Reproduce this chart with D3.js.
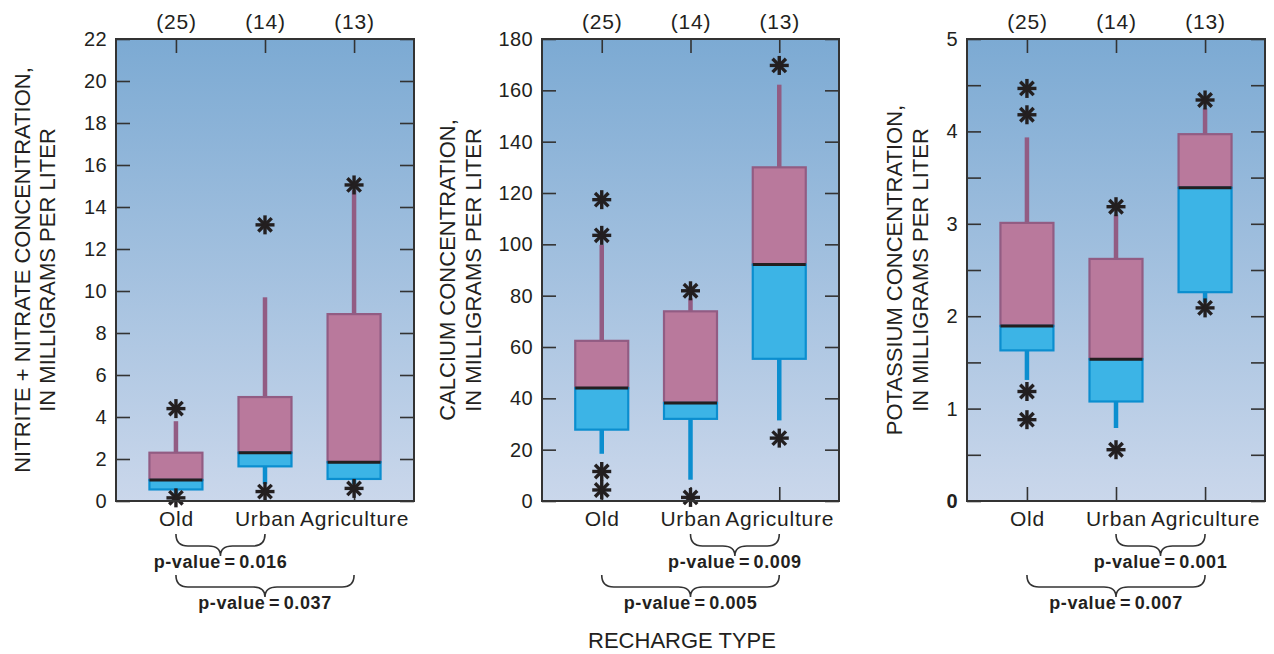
<!DOCTYPE html>
<html>
<head>
<meta charset="utf-8">
<script src="https://cdn.jsdelivr.net/npm/d3@7"></script>
<style>
  html, body { margin: 0; padding: 0; background: #fff; }
  svg { display: block; font-family: "Liberation Sans", Arial, Helvetica, sans-serif; }
</style>
</head>
<body>
<svg id="chart" width="1274" height="654"></svg>
<script>
// Recharge-type categories and number of samples in each
const categories = ["Old", "Urban", "Agriculture"];
const sampleCounts = [25, 14, 13];

// Box statistics per category: [lower whisker, 25th pct, median, 75th pct, upper whisker]
const nitrateBoxes = [
  [0.3, 0.55, 1.0, 2.3, 3.8],
  [0.8, 1.65, 2.3, 4.95, 9.7],
  [0.8, 1.05, 1.85, 8.9, 14.8]
];
const calciumBoxes = [
  [18.4, 27.8, 44, 62.4, 99.8],
  [8.3, 32, 38.2, 73.9, 79],
  [31.4, 55.4, 92.1, 130, 162.2]
];
const potassiumBoxes = [
  [1.31, 1.63, 1.895, 3.01, 3.935],
  [0.79, 1.077, 1.535, 2.62, 3.1],
  [2.15, 2.26, 3.39, 3.97, 4.25]
];

// Outside values per category
const nitrateOutliers = [[4.4, 0.15], [13.15, 0.45], [15.05, 0.6]];
const calciumOutliers = [[117.4, 103.5, 11.5, 4.3], [81.9, 1.4], [169.7, 24.5]];
const potassiumOutliers = [[4.465, 4.18, 1.185, 0.88], [3.185, 0.555], [4.34, 2.09]];

// Axis tick values
const nitrateTicks = d3.range(0, 23, 2);
const calciumTicks = d3.range(0, 181, 20);
const potassiumTicks = d3.range(0, 5.01, 0.5);
const potassiumLabels = [0, 1, 2, 3, 4, 5];

// Pairwise comparisons: [from, to, p-value]
const nitrateTests = [["Old", "Urban", "0.016"], ["Old", "Agriculture", "0.037"]];
const calciumTests = [["Urban", "Agriculture", "0.009"], ["Old", "Agriculture", "0.005"]];
const potassiumTests = [["Urban", "Agriculture", "0.001"], ["Old", "Agriculture", "0.007"]];

// Axis titles (two lines each)
const nitrateTitle = ["NITRITE + NITRATE CONCENTRATION,", "IN MILLIGRAMS PER LITER"];
const calciumTitle = ["CALCIUM CONCENTRATION,", "IN MILLIGRAMS PER LITER"];
const potassiumTitle = ["POTASSIUM CONCENTRATION,", "IN MILLIGRAMS PER LITER"];

const svg = d3.select("#chart");
const ink = "#231f20";
const upperFill = "#b9799c", upperStroke = "#925c83";
const lowerFill = "#3cb4e6", lowerStroke = "#0b8ecf";

const defs = svg.append("defs");
const grad = defs.append("linearGradient")
  .attr("id", "plotBg").attr("x1", 0).attr("y1", 0).attr("x2", 0).attr("y2", 1);
grad.append("stop").attr("offset", "0%").attr("stop-color", "#7caad3");
grad.append("stop").attr("offset", "100%").attr("stop-color", "#cad7eb");

const plotTop = 39, plotBottom = 501;

const panels = [
  { left: 116, right: 414, domain: [0, 22], ticks: nitrateTicks, labels: nitrateTicks,
    boxes: nitrateBoxes, outliers: nitrateOutliers, tests: nitrateTests,
    title: nitrateTitle, titleX: [30, 55] },
  { left: 542, right: 839, domain: [0, 180], ticks: calciumTicks, labels: calciumTicks,
    boxes: calciumBoxes, outliers: calciumOutliers, tests: calciumTests,
    title: calciumTitle, titleX: [455, 481] },
  { left: 967, right: 1265, domain: [0, 5], ticks: potassiumTicks, labels: potassiumLabels,
    boxes: potassiumBoxes, outliers: potassiumOutliers, tests: potassiumTests,
    title: potassiumTitle, titleX: [902, 928], boldZero: true }
];

function star(g, cx, cy) {
  const r = 9.5;
  const s = g.append("g").attr("transform", `translate(${cx},${cy})`);
  [0, 45, 90, 135].forEach(a => {
    const rad = a * Math.PI / 180;
    s.append("line")
      .attr("x1", -r * Math.cos(rad)).attr("y1", -r * Math.sin(rad))
      .attr("x2", r * Math.cos(rad)).attr("y2", r * Math.sin(rad))
      .attr("stroke", ink).attr("stroke-width", 3.4).attr("stroke-linecap", "butt");
  });
}

function brace(x1, x2, y0) {
  const mid = (x1 + x2) / 2, r = 12, y1 = y0 + 12, y2 = y0 + 22;
  const p = d3.path();
  p.moveTo(x1, y0);
  p.quadraticCurveTo(x1, y1, x1 + r, y1);
  p.lineTo(mid - r, y1);
  p.quadraticCurveTo(mid, y1, mid, y2);
  p.quadraticCurveTo(mid, y1, mid + r, y1);
  p.lineTo(x2 - r, y1);
  p.quadraticCurveTo(x2, y1, x2, y0);
  return p.toString();
}

panels.forEach(P => {
  const g = svg.append("g");
  const x = d3.scalePoint().domain(categories).range([P.left, P.right]).padding(0.673);
  const y = d3.scaleLinear().domain(P.domain).range([plotBottom, plotTop]);

  g.append("rect")
    .attr("x", P.left).attr("y", plotTop)
    .attr("width", P.right - P.left).attr("height", plotBottom - plotTop)
    .attr("fill", "url(#plotBg)");

  // Left axis: inward ticks with labels
  const leftAxis = g.append("g").attr("transform", `translate(${P.left},0)`)
    .call(d3.axisLeft(y).tickValues(P.ticks).tickSizeInner(-14).tickSizeOuter(0).tickPadding(9)
      .tickFormat(d => P.labels.some(v => Math.abs(v - d) < 1e-9) ? d3.format("d")(d) : ""));
  // Right axis: inward ticks only
  const rightAxis = g.append("g").attr("transform", `translate(${P.right},0)`)
    .call(d3.axisRight(y).tickValues(P.ticks).tickSizeInner(-14).tickSizeOuter(0).tickFormat(""));
  // Top axis: sample counts
  const topAxis = g.append("g").attr("transform", `translate(0,${plotTop})`)
    .call(d3.axisTop(x).tickSizeInner(-14).tickSizeOuter(0).tickPadding(10)
      .tickFormat((d, i) => `(${sampleCounts[i]})`));
  // Bottom axis: category names
  const bottomAxis = g.append("g").attr("transform", `translate(0,${plotBottom})`)
    .call(d3.axisBottom(x).tickSizeInner(-14).tickSizeOuter(0).tickPadding(10));

  [leftAxis, rightAxis, topAxis, bottomAxis].forEach(a => {
    a.select(".domain").remove();
    a.selectAll(".tick line").attr("stroke", "#333").attr("stroke-width", 1.6);
    a.selectAll("text").attr("fill", ink).attr("font-family", null);
  });
  leftAxis.selectAll("text").attr("font-size", 20).attr("letter-spacing", 0.4);
  if (P.boldZero) leftAxis.selectAll("text").filter(d => d === 0).attr("font-weight", "bold");
  topAxis.selectAll("text").attr("font-size", 21).attr("letter-spacing", 0.8);
  bottomAxis.selectAll("text").attr("font-size", 21).attr("letter-spacing", 0.8);

  const bw = 53;
  P.boxes.forEach((b, i) => {
    const cx = x(categories[i]);
    const [lo, q1, med, q3, hi] = b;
    // whiskers
    g.append("line").attr("x1", cx).attr("x2", cx).attr("y1", y(q3)).attr("y2", y(hi))
      .attr("stroke", upperStroke).attr("stroke-width", 4.5);
    g.append("line").attr("x1", cx).attr("x2", cx).attr("y1", y(q1)).attr("y2", y(lo))
      .attr("stroke", lowerStroke).attr("stroke-width", 4.5);
    // upper half of box
    g.append("rect").attr("x", cx - bw / 2).attr("width", bw)
      .attr("y", y(q3)).attr("height", y(med) - y(q3))
      .attr("fill", upperFill).attr("stroke", upperStroke).attr("stroke-width", 2.2);
    // lower half of box
    g.append("rect").attr("x", cx - bw / 2).attr("width", bw)
      .attr("y", y(med)).attr("height", y(q1) - y(med))
      .attr("fill", lowerFill).attr("stroke", lowerStroke).attr("stroke-width", 2.2);
    // median
    g.append("line").attr("x1", cx - bw / 2).attr("x2", cx + bw / 2)
      .attr("y1", y(med)).attr("y2", y(med))
      .attr("stroke", ink).attr("stroke-width", 3);
    P.outliers[i].forEach(v => star(g, cx, y(v)));
  });

  // plot frame
  g.append("rect")
    .attr("x", P.left).attr("y", plotTop)
    .attr("width", P.right - P.left).attr("height", plotBottom - plotTop)
    .attr("fill", "none").attr("stroke", "#333").attr("stroke-width", 2);

  // axis title
  const cy = (plotTop + plotBottom) / 2;
  P.title.forEach((t, k) => {
    g.append("text")
      .attr("transform", `translate(${P.titleX[k]},${cy}) rotate(-90)`)
      .attr("text-anchor", "middle").attr("font-size", 22).attr("fill", ink)
      .text(t);
  });

  // significance braces
  P.tests.forEach((t, k) => {
    const x1 = x(t[0]), x2 = x(t[1]);
    const y0 = k === 0 ? 534 : 575;
    g.append("path").attr("d", brace(x1, x2, y0))
      .attr("fill", "none").attr("stroke", "#333").attr("stroke-width", 1.6);
    g.append("text")
      .attr("x", (x1 + x2) / 2).attr("y", y0 + 34)
      .attr("text-anchor", "middle").attr("font-size", 18).attr("font-weight", "bold")
      .attr("letter-spacing", 0.6).attr("word-spacing", -2).attr("fill", ink)
      .text(`p-value = ${t[2]}`);
  });
});

svg.append("text")
  .attr("x", 682).attr("y", 648)
  .attr("text-anchor", "middle").attr("font-size", 22).attr("fill", ink)
  .text("RECHARGE TYPE");
</script>
</body>
</html>
